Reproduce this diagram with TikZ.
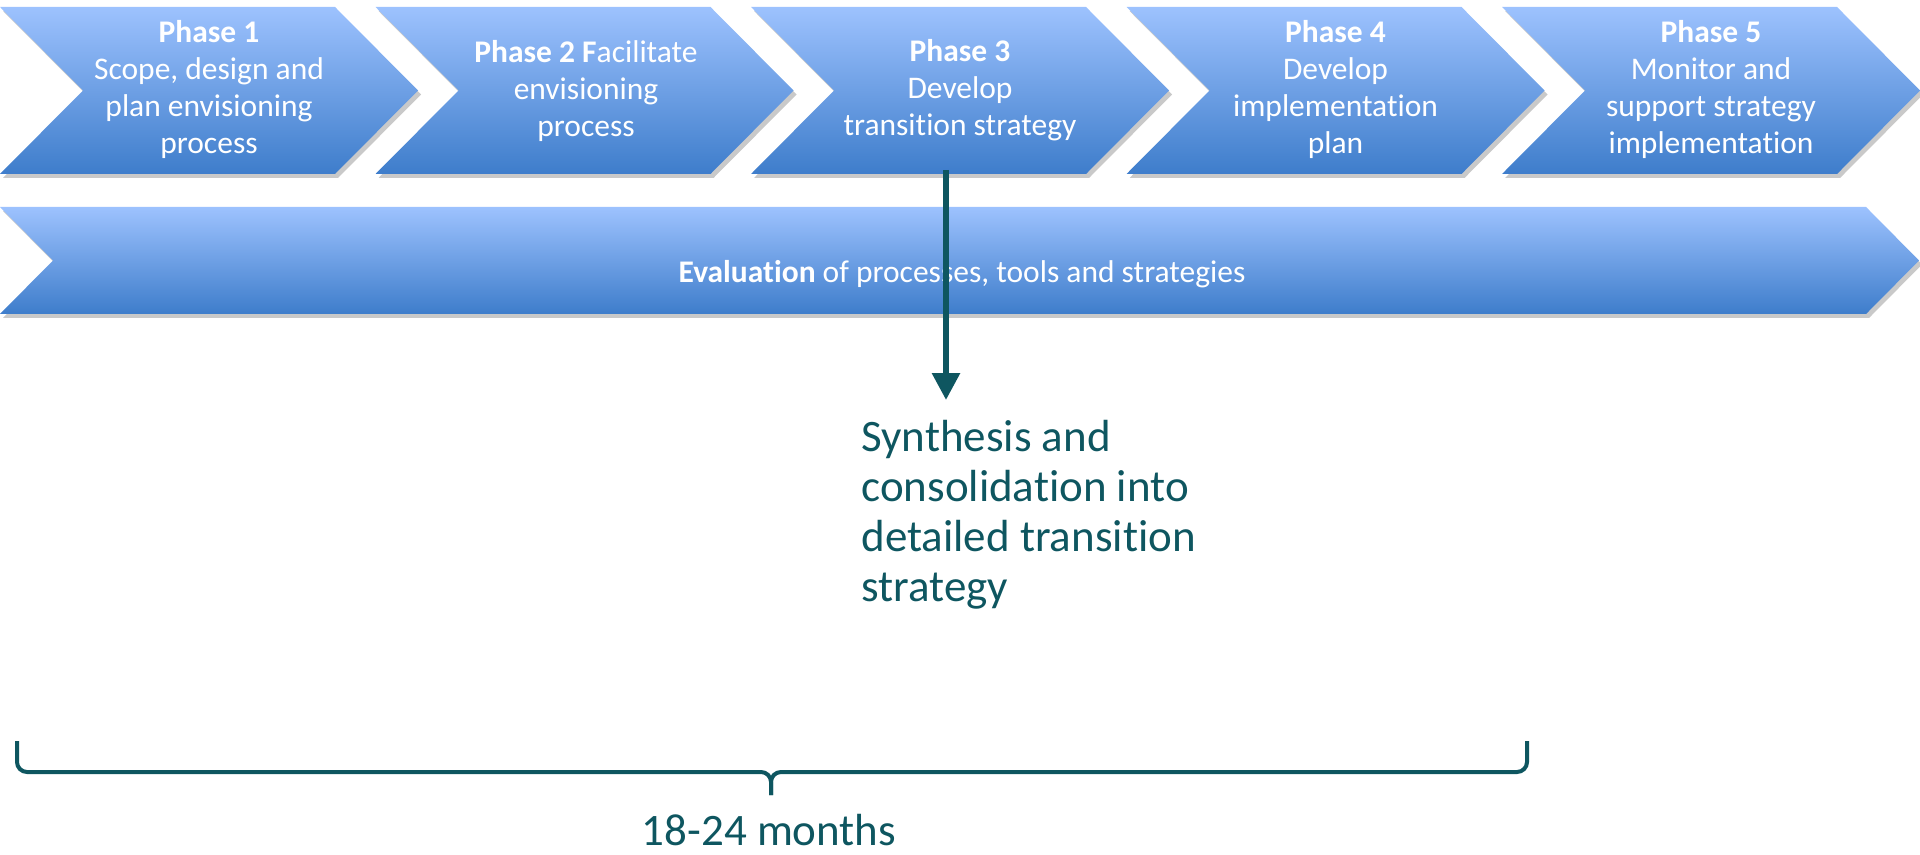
\documentclass[tikz,border=0pt]{standalone}
\usepackage{fontspec}
\setmainfont{Carlito}[Ligatures=NoCommon]
\usetikzlibrary{arrows.meta,shadows}
\definecolor{ctop}{RGB}{157,194,254}
\definecolor{cbot}{RGB}{62,125,203}
\definecolor{darkteal}{RGB}{14,86,96}
\begin{document}
\begin{tikzpicture}[x=0.5pt,y=-0.5pt,
  chev/.style={top color=ctop, bottom color=cbot, draw=none,
    drop shadow={shadow xshift=1.5pt, shadow yshift=-2pt, opacity=.3, fill=black!70}},
  phasetext/.style={align=center, text=white, inner sep=0pt,
    font=\fontsize{15.75}{18.5}\selectfont},
  darktext/.style={text=darkteal, inner sep=0pt,
    font=\fontsize{22.5}{25}\selectfont},
  connector/.style={draw=darkteal, line width=3pt,
    -{Triangle[width=13.5pt,length=13.5pt]}},
  bracestyle/.style={draw=darkteal, line width=2pt, rounded corners=5pt}]
\useasboundingbox (0,0) rectangle (1920,855);

% phase chevrons
\foreach \x in {0,375.5,751,1126.5,1502}
  \path[chev] (\x,7) -- ++(335,0) -- ++(83,83.5) -- ++(-83,83.5) -- ++(-335,0) -- ++(83,-83.5) -- cycle;

% evaluation bar
\path[chev] (0,207) -- (1866,207) -- (1919,260.5) -- (1866,314) -- (0,314) -- (53,260.5) -- cycle;

% phase texts
\node[phasetext] (t1) at (209,89.5) {\textbf{Phase 1}\\Scope, design and\\plan envisioning\\process};
\node[phasetext] (t2) at (586,90.5) {\textbf{Phase 2 F}acilitate\\envisioning\\process};
\node[phasetext] (t3) at (960,90) {\textbf{Phase 3}\\Develop\\transition strategy};
\node[phasetext] (t4) at (1335.5,89.5) {\textbf{Phase 4}\\Develop\\implementation\\plan};
\node[phasetext] (t5) at (1711,89.5) {\textbf{Phase 5}\\Monitor and\\support strategy\\implementation};

\node[phasetext, anchor=base] (ev) at (962,283) {\textbf{Evaluation} of processes, tools and strategies};

% arrow
\coordinate (astart) at (946,170);
\coordinate (aend) at (946,400);
\draw[connector] (astart) -- (aend);

\node[darktext, align=left, anchor=north west] (syn) at (861,420)
  {Synthesis and\\consolidation into\\detailed transition\\strategy};

% brace
\coordinate (bl) at (17,741);
\coordinate (br) at (1527,741);
\coordinate (bm) at (771,795);
\draw[bracestyle] (bl) -- (17,772) -- (771,772) -- (bm);
\draw[bracestyle] (br) -- (1527,772) -- (771,772) -- (bm);

\node[darktext, anchor=base] (dur) at (769,845) {18-24 months};
\end{tikzpicture}
\end{document}
